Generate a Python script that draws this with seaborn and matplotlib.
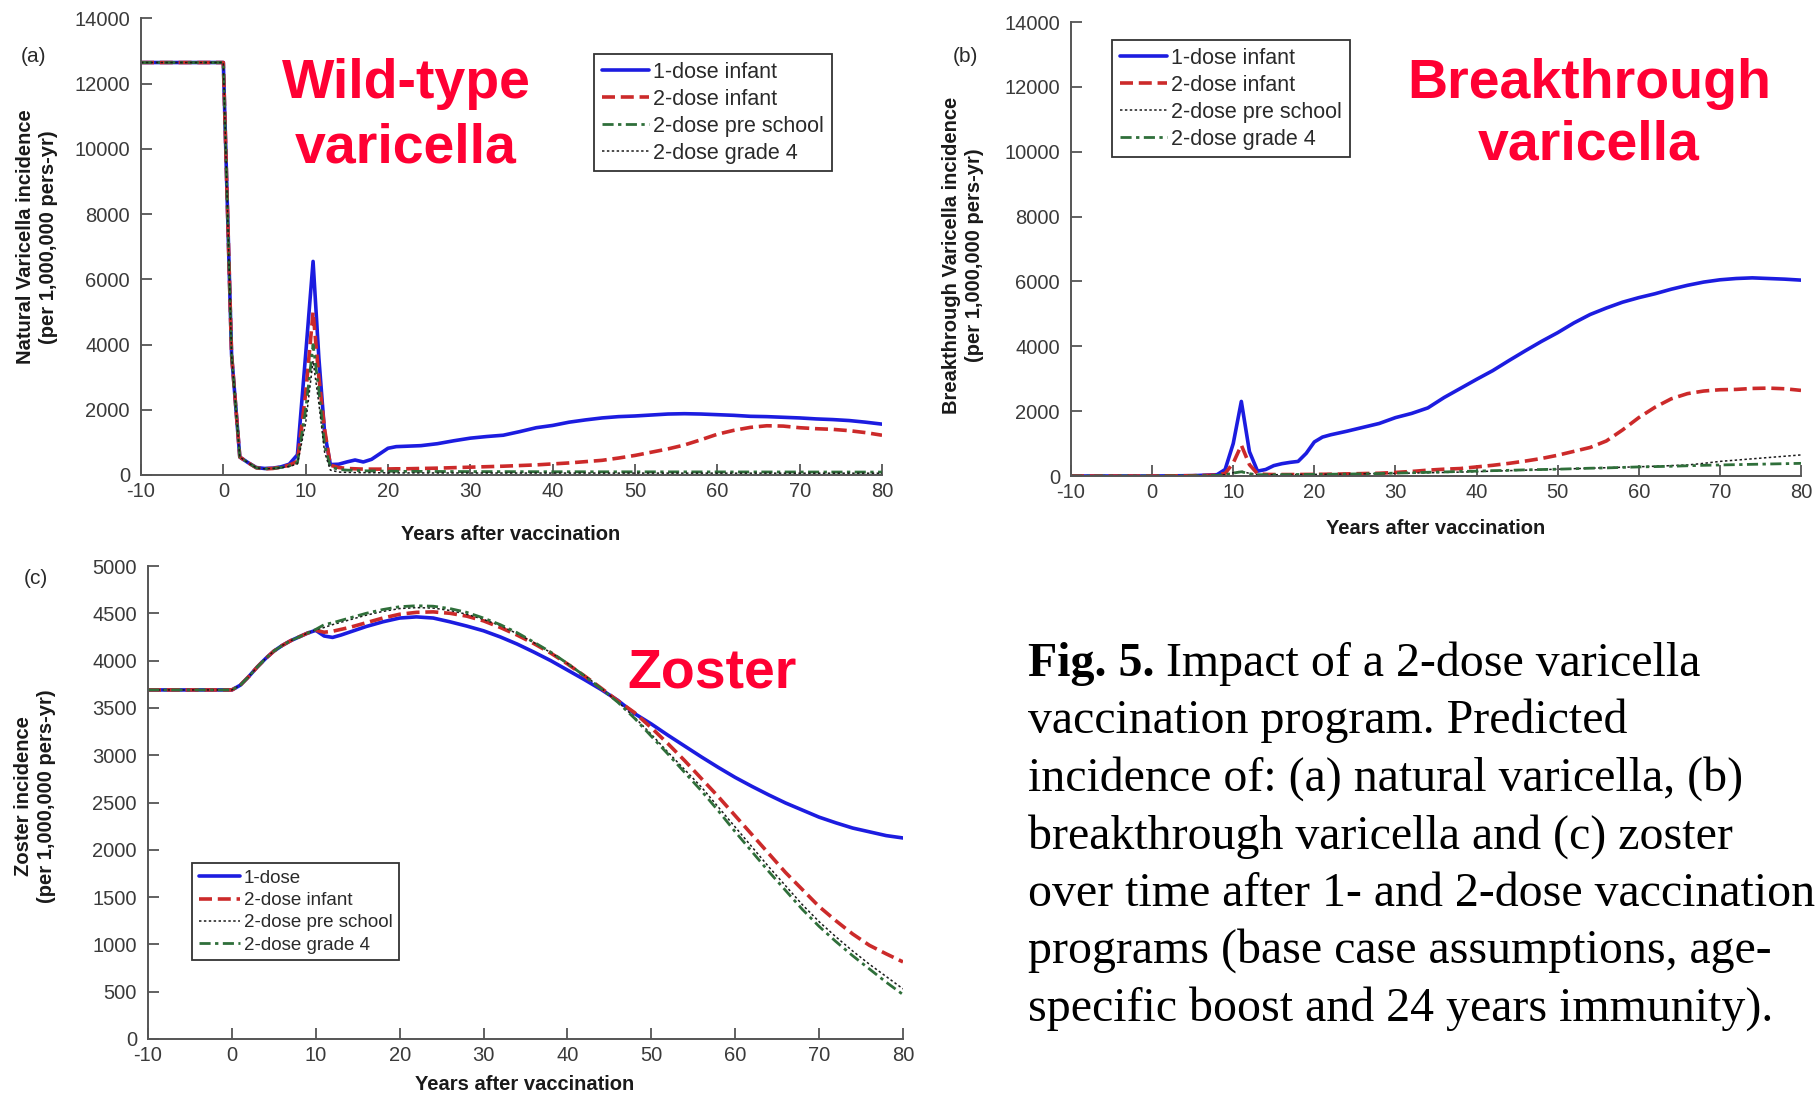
import matplotlib
matplotlib.use("Agg")
import matplotlib.pyplot as plt
import seaborn as sns

# ---------------- data ----------------
# (a) natural (wild-type) varicella
a_years = [-10, 0, 1, 2, 3, 4, 5, 6, 7, 8, 9, 10, 10.9, 11.6, 12.3, 13, 14, 15, 16, 17, 18, 19, 20,
           21, 22, 24, 26, 28, 30, 32, 34, 36, 38, 40, 42, 44, 46, 48, 50, 52, 54, 56, 58, 60,
           62, 64, 66, 68, 70, 72, 74, 76, 78, 80]
a_1dose_infant = [12650, 12650, 3700, 550, 380, 230, 200, 210, 250, 330, 620, 3700, 6550, 3600, 1300,
                  320, 330, 400, 460, 400, 480, 650, 820, 870, 880, 900, 960, 1050, 1130, 1180, 1220,
                  1330, 1450, 1520, 1620, 1690, 1750, 1790, 1810, 1840, 1870, 1880, 1870, 1850,
                  1830, 1800, 1790, 1770, 1750, 1720, 1700, 1670, 1620, 1560]
a_2dose_infant = [12650, 12650, 3700, 550, 380, 220, 190, 200, 240, 300, 420, 2500, 5000, 3000, 1400,
                  300, 230, 200, 190, 180, 180, 180, 185, 190, 190, 200, 210, 225, 240, 255, 270,
                  290, 310, 340, 370, 410, 450, 520, 600, 700, 800, 920, 1080, 1250,
                  1370, 1460, 1510, 1500, 1450, 1420, 1400, 1360, 1300, 1220]
a_2dose_preschool = [12650, 12650, 3700, 550, 380, 220, 190, 200, 230, 280, 380, 2000, 4000, 2600, 900,
                     250, 170, 150, 140, 130, 125, 120, 118, 115, 112, 110, 108, 106, 105, 104, 103,
                     102, 101, 100, 100, 99, 98, 98, 97, 97, 96, 96, 95, 95,
                     94, 94, 93, 93, 92, 92, 91, 91, 90, 90]
a_2dose_grade4 = [12650, 12650, 3700, 550, 380, 220, 190, 200, 220, 260, 340, 1600, 3500, 2200, 700,
                  150, 90, 80, 75, 72, 70, 68, 66, 65, 64, 63, 62, 62, 61, 61, 60,
                  60, 60, 59, 59, 59, 58, 58, 58, 58, 57, 57, 57, 57,
                  56, 56, 56, 56, 55, 55, 55, 55, 55, 55]

# (b) breakthrough varicella
b_years = [-10, 0, 5, 8, 9, 10, 11, 12, 13, 14, 15, 16, 17, 18, 19, 20, 21, 22, 24, 26, 28, 30, 32,
           34, 36, 38, 40, 42, 44, 46, 48, 50, 52, 54, 56, 58, 60, 62, 64, 66, 68, 70, 72, 74,
           76, 78, 80]
b_1dose_infant = [0, 0, 10, 40, 200, 1000, 2300, 750, 150, 200, 320, 380, 420, 450, 700, 1050, 1200,
                  1270, 1380, 1500, 1620, 1800, 1930, 2100, 2420, 2700, 2980, 3250, 3560, 3860,
                  4150, 4420, 4720, 4980, 5180, 5360, 5500, 5620, 5760, 5880, 5980, 6050, 6090,
                  6110, 6090, 6070, 6040]
b_2dose_infant = [0, 0, 10, 30, 80, 400, 950, 350, 70, 50, 45, 45, 45, 46, 48, 50, 52, 55, 65, 75,
                  85, 110, 140, 180, 210, 230, 280, 330, 390, 460, 540, 640, 760, 880, 1080, 1420,
                  1800, 2120, 2380, 2540, 2620, 2660, 2670, 2700, 2710, 2690, 2640]
b_2dose_preschool = [0, 0, 5, 20, 40, 100, 150, 80, 40, 40, 40, 42, 44, 46, 48, 50, 52, 55, 60, 68,
                     75, 80, 90, 100, 110, 120, 135, 150, 165, 180, 195, 210, 225, 240, 255, 270,
                     285, 300, 320, 340, 390, 450, 490, 530, 570, 610, 650]
b_2dose_grade4 = [0, 0, 5, 20, 40, 90, 130, 70, 40, 40, 40, 42, 44, 46, 48, 50, 52, 55, 60, 68,
                  75, 90, 100, 115, 125, 140, 150, 165, 175, 190, 200, 210, 225, 240, 250, 265,
                  280, 290, 300, 315, 330, 340, 350, 360, 370, 380, 390]

# (c) zoster
c_years = [-10, 0, 1, 2, 3, 4, 5, 6, 7, 8, 9, 10, 11, 12, 13, 14, 16, 18, 20, 22, 24, 26, 28, 30,
           32, 34, 36, 38, 40, 42, 44, 46, 48, 50, 52, 54, 56, 58, 60, 62, 64, 66, 68, 70, 72,
           74, 76, 78, 80]
c_1dose = [3690, 3690, 3740, 3830, 3930, 4020, 4100, 4160, 4210, 4250, 4290, 4320, 4260, 4245, 4270,
           4300, 4360, 4410, 4450, 4462, 4450, 4410, 4365, 4315, 4250, 4175, 4090, 4000, 3900,
           3800, 3695, 3580, 3440, 3330, 3210, 3095, 2980, 2870, 2765, 2670, 2580, 2495, 2420,
           2345, 2285, 2230, 2190, 2150, 2125]
c_2dose_infant = [3690, 3690, 3740, 3830, 3930, 4020, 4100, 4160, 4210, 4250, 4290, 4320, 4300, 4310,
                  4330, 4350, 4400, 4450, 4490, 4510, 4515, 4500, 4470, 4420, 4350, 4270, 4180,
                  4080, 3965, 3840, 3710, 3575, 3450, 3290, 3120, 2940, 2750, 2560, 2360, 2160,
                  1960, 1760, 1580, 1400, 1250, 1110, 990, 900, 815]
c_2dose_preschool = [3690, 3690, 3740, 3830, 3930, 4020, 4100, 4160, 4210, 4250, 4290, 4325, 4350,
                     4380, 4405, 4430, 4480, 4520, 4550, 4560, 4555, 4530, 4490, 4435, 4370, 4285,
                     4190, 4085, 3970, 3845, 3710, 3565, 3400, 3220, 3030, 2845, 2660, 2450, 2240,
                     2030, 1820, 1620, 1420, 1240, 1080, 930, 790, 660, 530]
c_2dose_grade4 = [3690, 3690, 3740, 3830, 3930, 4020, 4100, 4160, 4210, 4250, 4290, 4330, 4380,
                  4400, 4425, 4450, 4500, 4540, 4570, 4580, 4575, 4550, 4510, 4450, 4380, 4295,
                  4195, 4090, 3970, 3840, 3705, 3560, 3390, 3200, 3010, 2815, 2620, 2410, 2190,
                  1980, 1770, 1570, 1370, 1190, 1030, 880, 740, 600, 470]

x_ticks = [-10, 0, 10, 20, 30, 40, 50, 60, 70, 80]
y_ticks_ab = [0, 2000, 4000, 6000, 8000, 10000, 12000, 14000]
y_ticks_c = [0, 500, 1000, 1500, 2000, 2500, 3000, 3500, 4000, 4500, 5000]

caption_lines = [
    "vaccination program. Predicted",
    "incidence of: (a) natural varicella, (b)",
    "breakthrough varicella and (c) zoster",
    "over time after 1- and 2-dose vaccination",
    "programs (base case assumptions, age-",
    "specific boost and 24 years immunity).",
]

# ---------------- style ----------------
sns.set_theme(style="ticks")
plt.rcParams["font.family"] = ["Liberation Sans", "DejaVu Sans"]
plt.rcParams["axes.unicode_minus"] = False

W, H = 1816, 1095
fig = plt.figure(figsize=(W / 100, H / 100), dpi=100)


def fx(px):
    return px / W


def fy(py):
    return 1 - py / H


def axes_from_px(l, t, r, b):
    return fig.add_axes([fx(l), fy(b), (r - l) / W, (b - t) / H])


ax_a = axes_from_px(141, 18.5, 882, 475)
ax_b = axes_from_px(1071, 22, 1801, 476)
ax_c = axes_from_px(148, 566, 903, 1039)

BLUE = "#1c1ce0"
RED = "#cc2a2a"
GREEN = "#2f6f3a"
BLACK = "#1a1a1a"

ST_BLUE = dict(color=BLUE, linestyle="-", linewidth=2.6)
ST_RED = dict(color=RED, linestyle=(0, (3.6, 1.6)), linewidth=2.6)
ST_GREEN = dict(color=GREEN, linestyle=(0, (4, 1.6, 1.2, 1.6)), linewidth=2.0)
ST_DOT = dict(color=BLACK, linestyle=(0, (1.6, 1.6)), linewidth=1.1)


def draw(ax, x, y, st, label):
    sns.lineplot(x=x, y=y, ax=ax, label=label, estimator=None, sort=False, **st)


# (a)
draw(ax_a, a_years, a_1dose_infant, ST_BLUE, "1-dose infant")
draw(ax_a, a_years, a_2dose_infant, ST_RED, "2-dose infant")
draw(ax_a, a_years, a_2dose_preschool, ST_GREEN, "2-dose pre school")
draw(ax_a, a_years, a_2dose_grade4, ST_DOT, "2-dose grade 4")

# (b)
draw(ax_b, b_years, b_1dose_infant, ST_BLUE, "1-dose infant")
draw(ax_b, b_years, b_2dose_infant, ST_RED, "2-dose infant")
draw(ax_b, b_years, b_2dose_preschool, ST_DOT, "2-dose pre school")
draw(ax_b, b_years, b_2dose_grade4, ST_GREEN, "2-dose grade 4")

# (c)
draw(ax_c, c_years, c_1dose, ST_BLUE, "1-dose")
draw(ax_c, c_years, c_2dose_infant, ST_RED, "2-dose infant")
draw(ax_c, c_years, c_2dose_preschool, ST_DOT, "2-dose pre school")
draw(ax_c, c_years, c_2dose_grade4, ST_GREEN, "2-dose grade 4")

TICK_COL = "#3a3a3a"
for ax, yt in ((ax_a, y_ticks_ab), (ax_b, y_ticks_ab), (ax_c, y_ticks_c)):
    ax.set_xlim(-10, 80)
    ax.set_ylim(0, yt[-1])
    ax.set_xticks(x_ticks)
    ax.set_yticks(yt)
    ax.set_xticklabels([str(v) for v in x_ticks])
    ax.set_yticklabels([str(v) for v in yt])
    ax.spines[["top", "right"]].set_visible(False)
    for s in ("left", "bottom"):
        ax.spines[s].set_color("#555555")
        ax.spines[s].set_linewidth(1.4)
    ax.tick_params(axis="both", direction="in", length=8, width=1.3, color="#555555",
                   labelcolor=TICK_COL, labelsize=14.5)
    ax.tick_params(axis="y", pad=8)
    ax.tick_params(axis="x", pad=5)
    ax.set_xlabel("")
    ax.set_ylabel("")
    ax.set_facecolor("white")


def legend(ax, x0, y0, fs):
    h, l = ax.get_legend_handles_labels()
    lg = ax.legend(h, l, loc="upper left", bbox_to_anchor=(x0, y0), fontsize=fs,
                   frameon=True, fancybox=False, framealpha=1, edgecolor="#333333",
                   handlelength=2.2, handletextpad=0.2, labelspacing=0.28,
                   borderpad=0.35, borderaxespad=0)
    lg.get_frame().set_linewidth(1.3)
    for t in lg.get_texts():
        t.set_color("#2a2a2a")
    return lg


legend(ax_a, (594 - 141) / 741, (475 - 54) / 456.5, 15.5)
legend(ax_b, (1112 - 1071) / 730, (476 - 40) / 454, 15.5)
legend(ax_c, (192 - 148) / 755, (1039 - 863) / 473, 13.5)

# axis labels
LAB = dict(fontsize=14.5, fontweight="bold", color="#1a1a1a", ha="center", va="center")
ax_a.text((37 - 141) / 741, (475 - 237) / 456.5,
          "Natural Varicella incidence\n(per 1,000,000 pers-yr)",
          transform=ax_a.transAxes, rotation=90, linespacing=1.3, **LAB)
ax_b.text((963 - 1071) / 730, (476 - 255) / 454,
          "Breakthrough Varicella incidence\n(per 1,000,000 pers-yr)",
          transform=ax_b.transAxes, rotation=90, linespacing=1.3, **LAB)
ax_c.text((35 - 148) / 755, (1039 - 796) / 473,
          "Zoster incidence\n(per 1,000,000 pers-yr)",
          transform=ax_c.transAxes, rotation=90, linespacing=1.3, **LAB)

fig.text(fx(511), fy(535), "Years after vaccination", **LAB)
fig.text(fx(1436), fy(529), "Years after vaccination", **LAB)
fig.text(fx(525), fy(1084), "Years after vaccination", **LAB)

# panel letters
for px, py, s in ((34, 56, "(a)"), (965, 56, "(b)"), (36, 579, "(c)")):
    fig.text(fx(px), fy(py), s, fontsize=15, color="#2a2a2a", ha="center", va="center")

# red annotations
RED_T = dict(fontsize=40, fontweight="bold", color="#FF0033", ha="center", va="baseline")
fig.text(fx(406), fy(98), "Wild-type", **RED_T)
fig.text(fx(406), fy(162), "varicella", **RED_T)
fig.text(fx(1589), fy(98), "Breakthrough", **RED_T)
fig.text(fx(1589), fy(160), "varicella", **RED_T)
fig.text(fx(712), fy(688), "Zoster", **RED_T)

# caption
SERIF = ["Liberation Serif", "DejaVu Serif"]
CAP = dict(fontsize=34.5, family=SERIF, color="black", ha="left", va="baseline")
t_bold = fig.text(fx(1028), fy(676), "Fig. 5.", fontweight="bold", **CAP)
ax_a.annotate(" Impact of a 2-dose varicella", xy=(1, 0), xycoords=t_bold,
              fontsize=34.5, family=SERIF, color="black",
              ha="left", va="bottom", annotation_clip=False)
base = 676
step = 57.4
for i, line in enumerate(caption_lines):
    fig.text(fx(1028), fy(base + step * (i + 1)), line, **CAP)

fig.savefig("out.png", dpi=100, facecolor="white")
